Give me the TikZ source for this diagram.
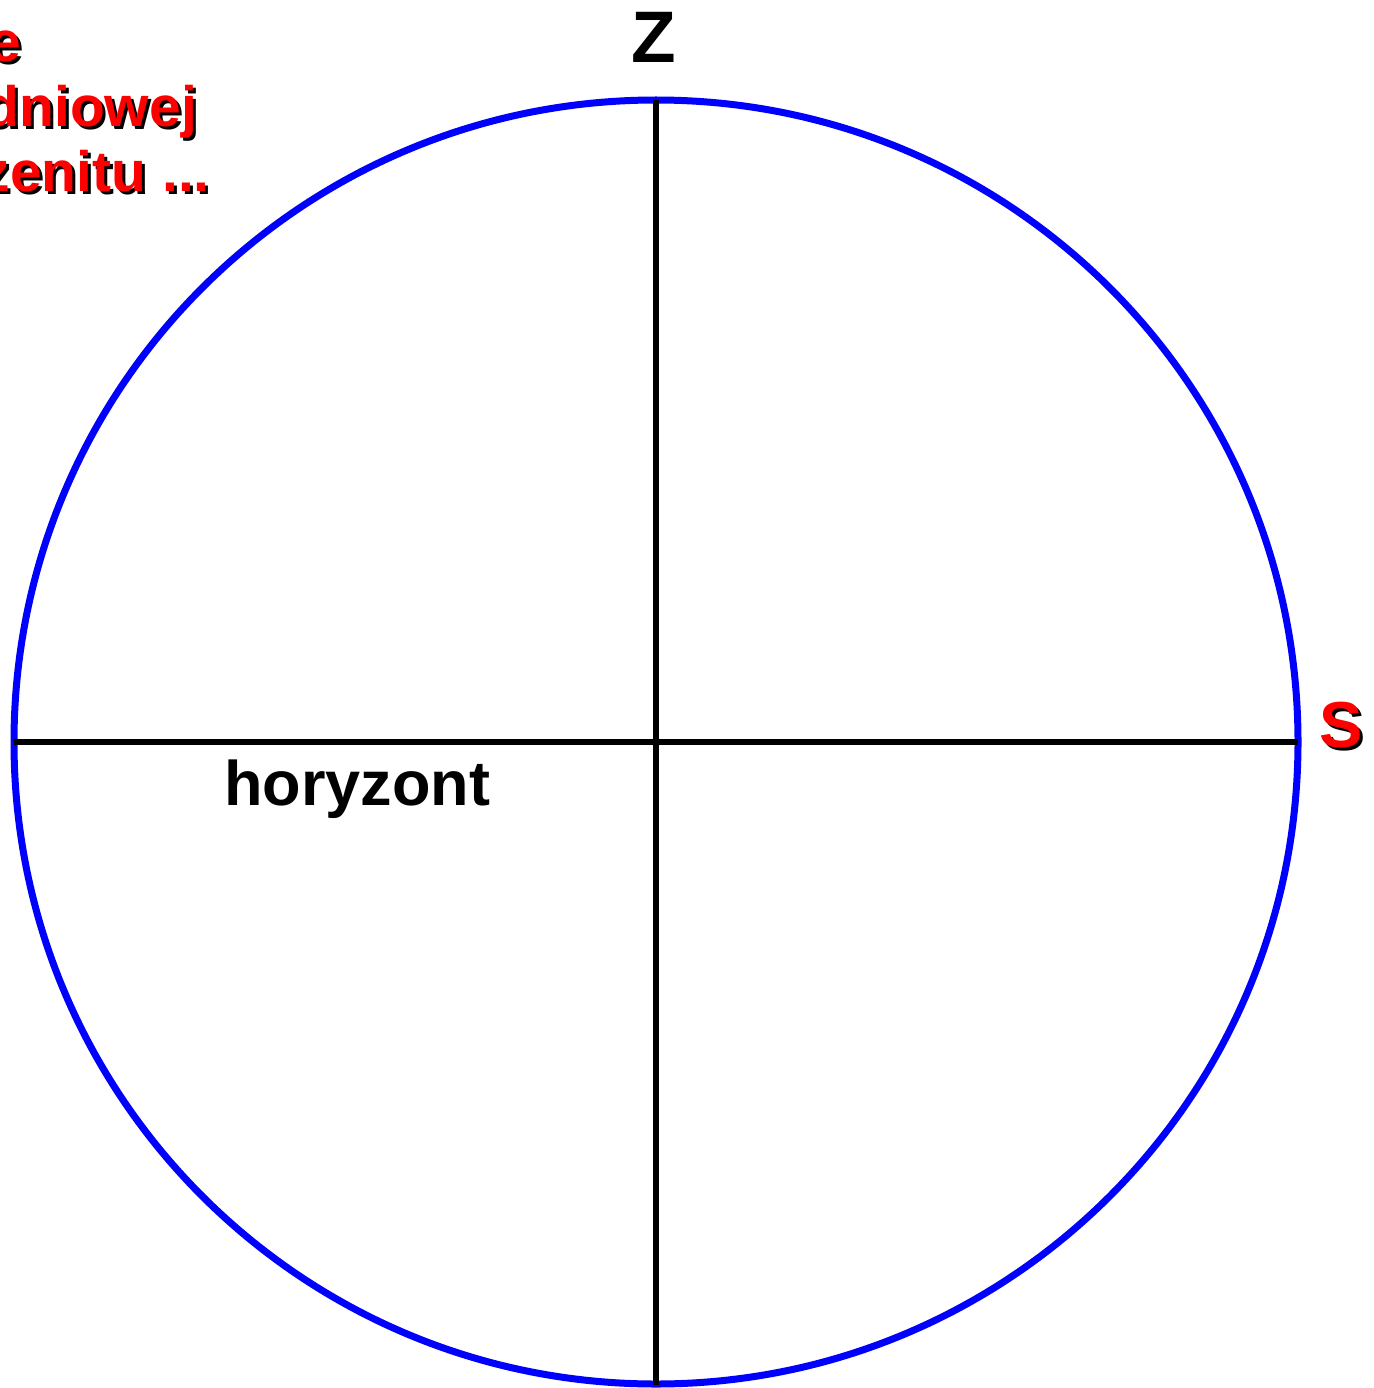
\documentclass[tikz,border=0pt]{standalone}
\usepackage{fontspec}
\setmainfont{Liberation Sans}
\usetikzlibrary{positioning}

\begin{document}
\begin{tikzpicture}[x=1pt, y=-1pt,
  % --- Lines ---
  sky/.style={draw=blue, line width=7pt},
  axis/.style={draw=black, line width=6pt},
  % --- Labels ---
  lbl/.style={inner sep=0pt, font=\fontsize{63}{63}\selectfont\bfseries},
  zlbl/.style={lbl, font=\fontsize{73}{73}\selectfont\bfseries},
  redlbl/.style={lbl, text=red, font=\fontsize{65}{65}\selectfont\bfseries},
  shadowlbl/.style={redlbl, text=black},
  notelbl/.style={lbl, font=\fontsize{57}{57}\selectfont\bfseries},
]
\useasboundingbox (0,0) rectangle (1373,1388);

% ===================== SPHERE =====================
\coordinate (O) at (656,742);
\coordinate (zenith) at (656,100);
\coordinate (nadir) at (656,1385);
\coordinate (north) at (14,742);
\coordinate (south) at (1298,742);

\draw[sky] (O) circle[radius=642pt];
\draw[axis] (zenith) -- (nadir);
\draw[axis] (north) -- (south);

% ===================== LABELS =====================
\node[zlbl, anchor=base] (Z) at (654,63) {Z};
\node[lbl, anchor=base] (hor) at (357,805) {horyzont};

\node[shadowlbl, anchor=base west] (Sshadow) at (1322,750) {S};
\node[redlbl, anchor=base west] (S) at (1319,747) {S};

% ============ NOTE (cut at the left edge) ============
\foreach \txt/\xe/\yb/\nm in {e/21/62/one, dniowej/197/127/two, {zenitu ...}/210/192/three}{
  \node[notelbl, text=black, anchor=base east] (\nm shadow) at (\xe+3,\yb+3) {\txt};
  \node[notelbl, text=red, anchor=base east] (\nm) at (\xe,\yb) {\txt};
}

\end{tikzpicture}
\end{document}
